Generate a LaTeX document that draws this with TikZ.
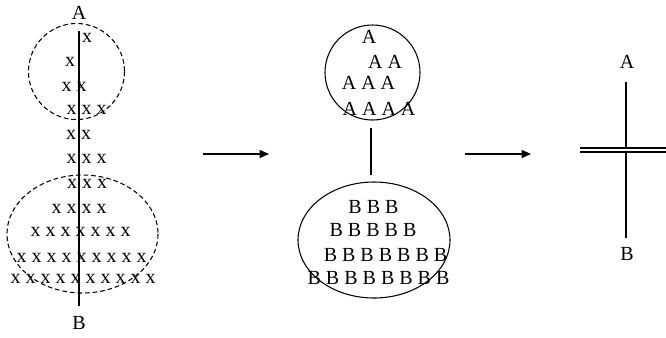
\documentclass[tikz,border=0pt]{standalone}
\usepackage{fontspec}
\setmainfont{Liberation Serif}
\usetikzlibrary{arrows.meta}
\begin{document}
\begin{tikzpicture}[x=0.75pt,y=-0.75pt,
  txt/.style={inner sep=0pt,font=\fontsize{15}{18}\selectfont},
  bline/.style={line width=1.2pt},
  dashcirc/.style={line width=0.8pt,dash pattern=on 3.5pt off 2.2pt},
  solidcirc/.style={line width=0.8pt},
  arr/.style={line width=0.8pt,-{Triangle[length=7pt,width=6pt]}}]
\useasboundingbox (0,0) rectangle (666,337);

% ---- left figure ----
\node[txt] (A1) at (79,13) {A};
\node[txt] (B1) at (79,323) {B};
\coordinate (l1t) at (79,31);
\coordinate (l1b) at (79,306);
\draw[bline] (l1t) -- (l1b);
\draw[dashcirc] (76.5,71.5) circle[radius=48];
\draw[dashcirc] (82.5,234) ellipse[x radius=75.5,y radius=59];
\node[txt] (x1) at (87,38) {x};
\node[txt] (x2) at (70,62) {x};
\node[txt] (x3) at (74,87) {x x};
\node[txt] (x4) at (86.5,110) {x x x};
\node[txt] (x5) at (78.5,135) {x x};
\node[txt] (x6) at (86.5,159) {x x x};
\node[txt] (x7) at (87,184) {x x x};
\node[txt] (x8) at (79,209) {x x x x};
\node[txt] (x9) at (80.5,232) {x x x x x x x};
\node[txt] (x10) at (81.5,258) {x x x x x x x x x};
\node[txt] (x11) at (83,279) {x x x x x x x x x x};

% ---- arrows ----
\coordinate (a1s) at (203,154);
\coordinate (a1e) at (269,154);
\draw[arr] (a1s) -- (a1e);
\coordinate (a2s) at (465,154);
\coordinate (a2e) at (531,154);
\draw[arr] (a2s) -- (a2e);

% ---- middle figure ----
\draw[solidcirc] (372.5,72.5) circle[radius=47.5];
\node[txt] (a1) at (369,37) {A};
\node[txt] (a2) at (385,62) {A A};
\node[txt] (a3) at (368.5,83) {A A A};
\node[txt] (a4) at (379,109) {A A A A};
\coordinate (m1t) at (371,128);
\coordinate (m1b) at (371,175);
\draw[bline] (m1t) -- (m1b);
\draw[solidcirc] (374,240) ellipse[x radius=76,y radius=58];
\node[txt] (b1) at (373.5,207) {B B B};
\node[txt] (b2) at (373,230) {B B B B B};
\node[txt] (b3) at (385.5,255) {B B B B B B B};
\node[txt] (b4) at (378.5,278) {B B B B B B B B};

% ---- right figure ----
\node[txt] (A3) at (627,62) {A};
\node[txt] (B3) at (627,254) {B};
\coordinate (r1t) at (626,82);
\coordinate (r1b) at (626,238);
\draw[line width=1pt] (r1t) -- (r1b);
\coordinate (h1l) at (580,150);
\coordinate (h1r) at (667,150);
\draw[double,double distance=2.2pt,line width=0.8pt] (h1l) -- (h1r);
\end{tikzpicture}
\end{document}
